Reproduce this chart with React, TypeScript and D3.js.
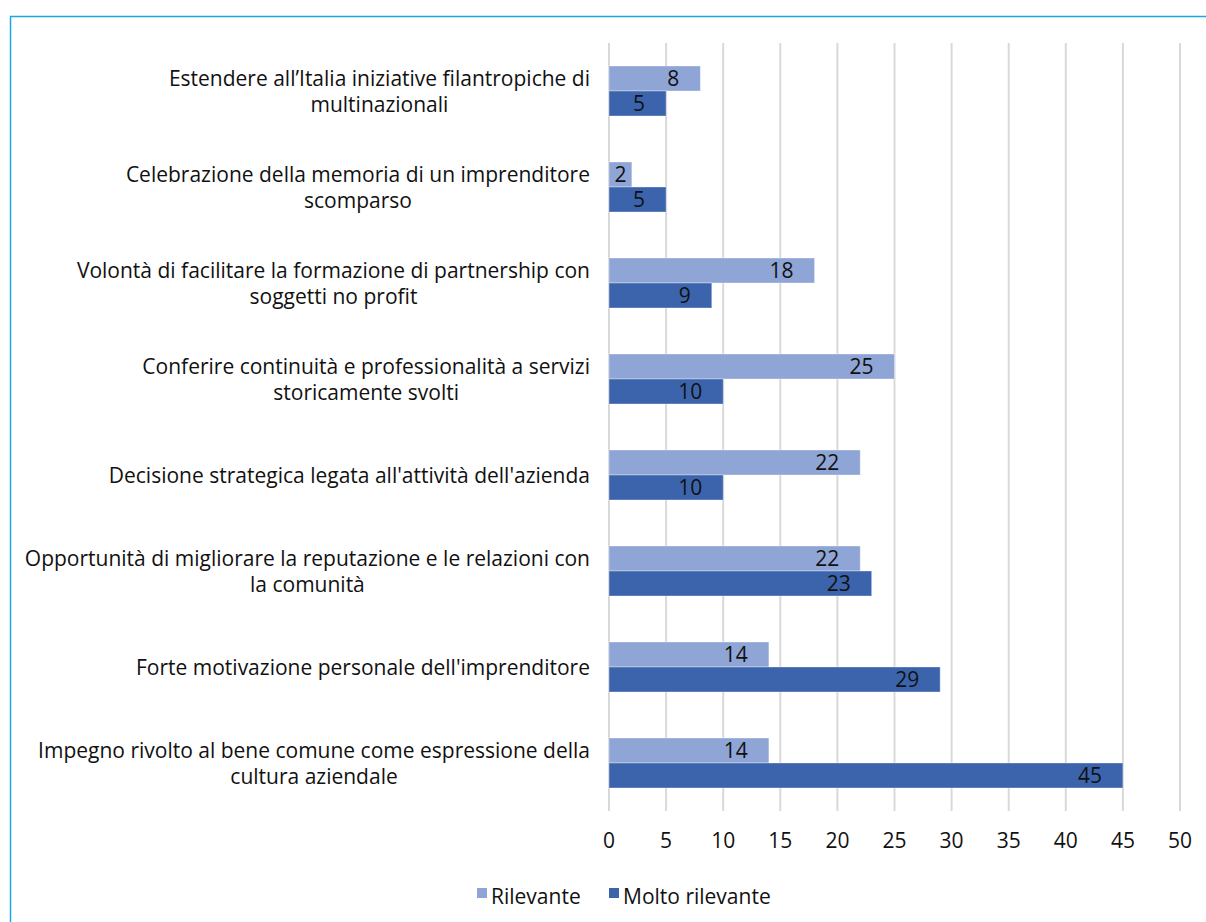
import React, { useEffect, useRef } from "react";
import * as d3 from "d3";

const categories: string[][] = [
  ["Estendere all’Italia iniziative filantropiche di", "multinazionali"],
  ["Celebrazione della memoria di un imprenditore", "scomparso"],
  ["Volontà di facilitare la formazione di partnership con", "soggetti no profit"],
  ["Conferire continuità e professionalità a servizi", "storicamente svolti"],
  ["Decisione strategica legata all'attività dell'azienda"],
  ["Opportunità di migliorare la reputazione e le relazioni con", "la comunità"],
  ["Forte motivazione personale dell'imprenditore"],
  ["Impegno rivolto al bene comune come espressione della", "cultura aziendale"],
];
const rilevante = [8, 2, 18, 25, 22, 22, 14, 14];
const moltoRilevante = [5, 5, 9, 10, 10, 23, 29, 45];
const xTicks = [0, 5, 10, 15, 20, 25, 30, 35, 40, 45, 50];
const seriesNames = ["Rilevante", "Molto rilevante"];
const colors = ["#8FA5D6", "#3C64AD"];

const W = 1206, H = 922;
const FONT = "'Open Sans', 'Noto Sans', sans-serif";
const FS = 21;

export default function App() {
  const ref = useRef<SVGSVGElement>(null);
  useEffect(() => {
    const svg = d3.select(ref.current!);
    svg.selectAll("*").remove();
    const left = 609, right = 1180, top = 43, bottom = 811;
    const x = d3.scaleLinear().domain([0, 50]).range([left, right]);
    const y = d3.scaleBand().domain(categories.map((_, i) => String(i))).range([top, bottom]);
    const barH = 25;
    const pad = 21;

    // frame
    svg.append("path").attr("d", `M10.5,${H} L10.5,16.5 L${W},16.5`)
      .attr("fill", "none").attr("stroke", "#1AA7E8").attr("stroke-width", 1.5);

    // gridlines
    svg.append("g").selectAll("line").data(xTicks).join("line")
      .attr("x1", d => x(d)).attr("x2", d => x(d))
      .attr("y1", top).attr("y2", bottom)
      .attr("stroke", "#D9D9D9").attr("stroke-width", 2);

    const g = svg.append("g");
    const series = [rilevante, moltoRilevante];
    series.forEach((vals, s) => {
      const by = (i: number) => y.bandwidth() / 2 + (y(String(i)) as number) - barH + s * barH;
      g.append("g").selectAll("rect").data(vals).join("rect")
        .attr("x", x(0))
        .attr("y", (_, i) => by(i))
        .attr("width", d => x(d) - x(0))
        .attr("height", barH)
        .attr("fill", colors[s])
        .attr("stroke", "#ffffff").attr("stroke-opacity", 0.35).attr("stroke-width", 1);
      const labels = g.append("g").selectAll("text").data(vals).join("text")
        .attr("y", (_, i) => by(i) + barH / 2)
        .attr("dy", "0.38em")
        .attr("text-anchor", "middle")
        .attr("font-family", FONT).attr("font-size", FS).attr("fill", "#111")
        .text(d => String(d));
      labels.each(function (d) {
        const t = this as SVGTextElement;
        const w = t.getComputedTextLength();
        const bw = x(d) - x(0);
        const cx = bw < w + 2 * pad ? x(0) + bw / 2 : x(d) - pad - w / 2;
        d3.select(t).attr("x", cx);
      });
    });

    // category labels
    categories.forEach((lines, i) => {
      const cy = (y(String(i)) as number) + y.bandwidth() / 2;
      const lh = 26;
      const grp = svg.append("g");
      const texts = lines.map((ln, j) =>
        grp.append("text")
          .attr("y", cy + (j - (lines.length - 1) / 2) * lh)
          .attr("dy", "0.36em")
          .attr("text-anchor", "middle")
          .attr("font-family", FONT).attr("font-size", FS).attr("fill", "#111")
          .text(ln)
      );
      const maxW = d3.max(texts, t => (t.node() as SVGTextElement).getComputedTextLength()) || 0;
      texts.forEach(t => t.attr("x", 590 - maxW / 2));
    });

    // x tick labels
    svg.append("g").selectAll("text").data(xTicks).join("text")
      .attr("x", d => x(d)).attr("y", 840).attr("dy", "0.36em")
      .attr("text-anchor", "middle")
      .attr("font-family", FONT).attr("font-size", FS).attr("fill", "#111")
      .text(d => String(d));

    // legend
    const legX = [477, 609];
    seriesNames.forEach((n, i) => {
      svg.append("rect").attr("x", legX[i]).attr("y", 888).attr("width", 10).attr("height", 10).attr("fill", colors[i]);
      svg.append("text").attr("x", legX[i] + 14).attr("y", 896).attr("dy", "0.36em")
        .attr("font-family", FONT).attr("font-size", FS).attr("fill", "#111").text(n);
    });
  }, []);
  return (
    <svg ref={ref} width={W} height={H} style={{ position: "absolute", left: 0, top: 0, background: "#fff" }} />
  );
}
